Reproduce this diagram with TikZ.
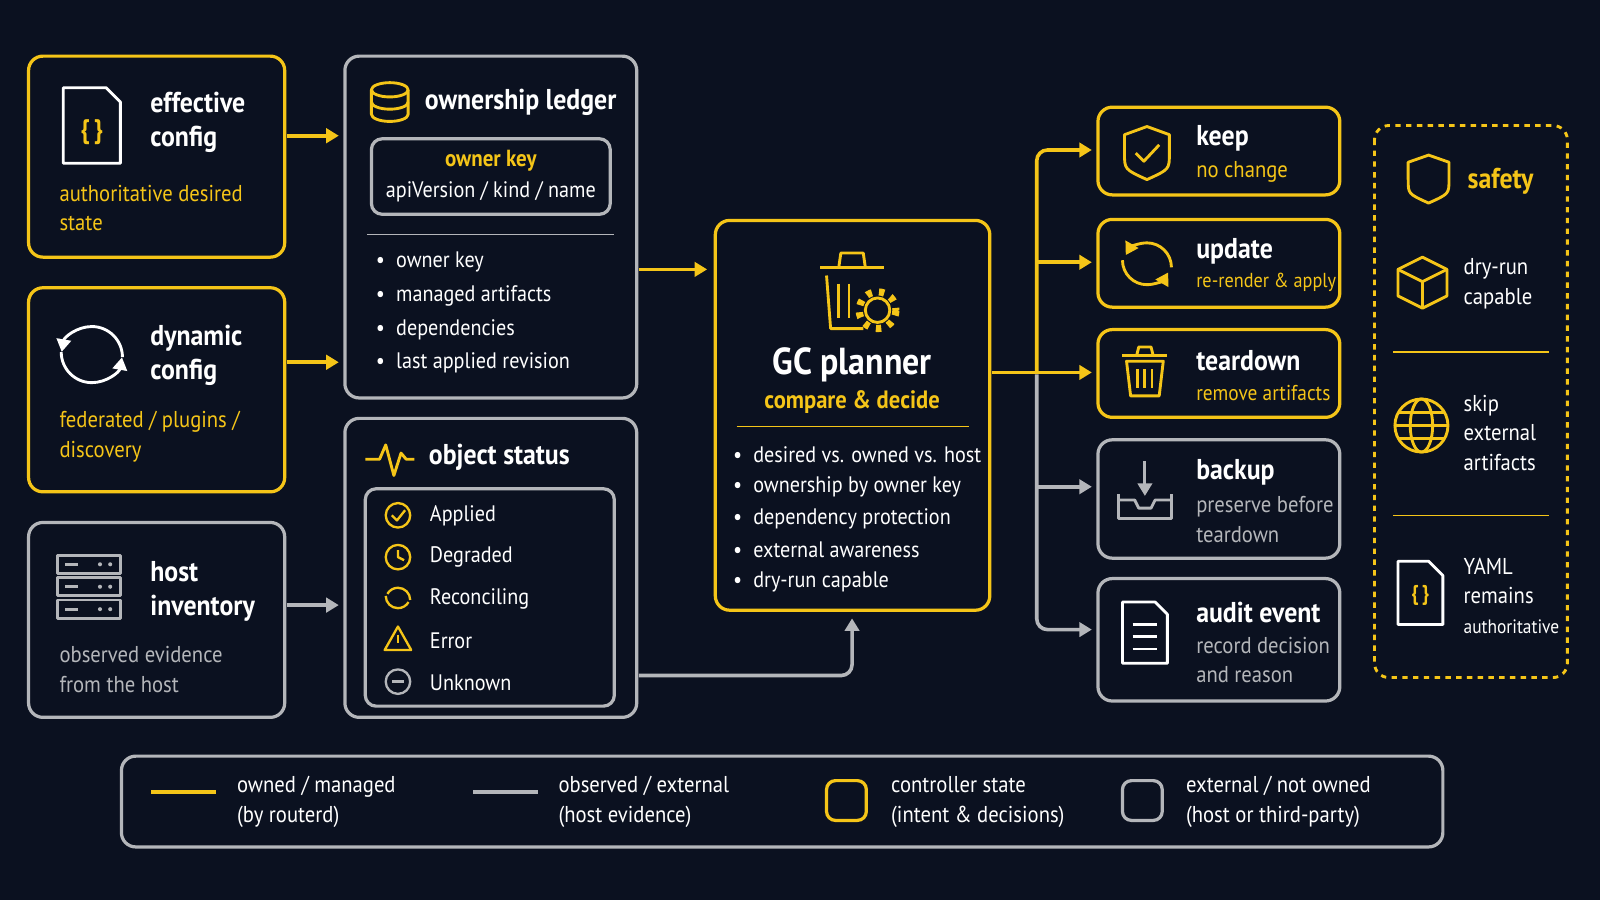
\documentclass[tikz,border=0pt]{standalone}
\usepackage{fontspec}
\setmainfont{PT Sans}[FakeStretch=0.9]
\usetikzlibrary{arrows.meta}
\definecolor{bgc}{HTML}{0B1120}
\definecolor{gold}{HTML}{F5C518}
\definecolor{ash}{HTML}{B4B6BA}
\tikzstyle{ctrl} = [draw=gold, line width=1.8pt, rounded corners=8]
\tikzstyle{extn} = [draw=ash, line width=1.8pt, rounded corners=8]
\tikzstyle{ttl}  = [anchor=west, text=white, font=\fontsize{16}{19}\selectfont\bfseries, align=left, inner sep=0]
\tikzstyle{sub}  = [anchor=west, font=\fontsize{12.8}{16.5}\selectfont, align=left, inner sep=0]
\tikzstyle{itm}  = [anchor=west, text=white, font=\fontsize{12.5}{14}\selectfont, inner sep=0]
\tikzstyle{ico}  = [line width=1.6pt, line join=round]
\begin{document}
\begin{tikzpicture}[x=0.02cm, y=-0.02cm, >={Triangle[length=7pt,width=8pt]}]
\fill[bgc] (0,0) rectangle (1568,882);
\useasboundingbox (0,0) rectangle (1568,882);
% left column
\draw[ctrl] (28,55) rectangle (279,252);
\draw[ico, white] (62,86) -- (104,86) -- (118,100) -- (118,160) -- (62,160) -- cycle;
\node[text=gold, font=\fontsize{15}{15}\selectfont\bfseries] (i1) at (90,130) {\{\,\}};
\node[ttl] (effc) at (147,120) {effective\\config};
\node[sub, text=gold] (effd) at (58,204) {authoritative desired\\state};
\draw[ctrl] (28,282) rectangle (279,482);
\draw[ico, white, ->] (60,345) arc (180:10:30);
\draw[ico, white, ->] (120,350) arc (0:-170:30);
\node[ttl] (dync) at (147,348) {dynamic\\config};
\node[sub, text=gold] (dynd) at (58,428) {federated / plugins /\\discovery};
\draw[extn] (28,512) rectangle (279,703);
\foreach \r in {0,1,2} {
  \draw[ico, ash] (56,544+\r*22) rectangle (118,562+\r*22);
  \draw[ico, ash] (64,553+\r*22) -- (76,553+\r*22);
  \fill[ash] (98,553+\r*22) circle (2) (108,553+\r*22) circle (2);
}
\node[ttl] (host) at (147,580) {host\\inventory};
\node[sub, text=ash] (hostd) at (58,656) {observed evidence\\from the host};
% ledger
\draw[extn] (338,55) rectangle (624,390);
\draw[ico, gold] (382,88) ellipse (18 and 7);
\draw[ico, gold] (364,88) -- (364,112) arc (180:0:18 and 7) -- (400,88);
\draw[ico, gold] (364,100) arc (180:0:18 and 7);
\node[ttl] (ledger) at (416,100) {ownership ledger};
\draw[extn, rounded corners=6] (364,136) rectangle (598,210);
\node[text=gold, font=\fontsize{13}{15}\selectfont\bfseries] (okey) at (481,158) {owner key};
\node[text=white, font=\fontsize{12.5}{14}\selectfont] (okeyd) at (481,188) {apiVersion / kind / name};
\draw[ash, line width=0.8pt] (360,230) -- (602,230);
\foreach \t [count=\i] in {owner key, managed artifacts, dependencies, last applied revision}
  \node[itm] (l\i) at (368,257+\i*33-33) {\textbullet\enspace\t};
% status
\draw[extn] (338,410) rectangle (624,703);
\draw[ico, gold] (358,450) -- (372,450) -- (378,436) -- (386,466) -- (393,444) -- (398,450) -- (406,450);
\node[ttl] (status) at (420,448) {object status};
\draw[extn, rounded corners=6] (358,479) rectangle (602,692);
\foreach \t [count=\i] in {Applied, Degraded, Reconciling, Error, Unknown}
  \node[itm] (s\i) at (421,505+\i*41-41) {\t};
\draw[ico, gold, line width=1.3pt] (390,505) circle (12);
\draw[ico, gold, line width=1.3pt] (384,505) -- (389,510) -- (397,500);
\draw[ico, gold, line width=1.3pt] (390,546) circle (12);
\draw[ico, gold, line width=1.3pt] (390,539) -- (390,546) -- (396,549);
\draw[ico, gold, line width=1.3pt] (378,584) arc (180:30:12);
\draw[ico, gold, line width=1.3pt] (402,588) arc (0:-150:12);
\draw[ico, gold, line width=1.3pt] (390,614) -- (403,637) -- (377,637) -- cycle;
\draw[ico, gold, line width=1.3pt] (390,622) -- (390,630);
\draw[ico, ash, line width=1.3pt] (390,668) circle (12);
\draw[ico, ash, line width=1.3pt] (384,668) -- (396,668);
% GC planner
\draw[ico, gold] (804,262) -- (866,262);
\draw[ico, gold] (822,262) -- (824,248) -- (846,248) -- (848,262);
\draw[ico, gold] (810,270) -- (814,322) -- (846,322);
\foreach \x in {822,832} \draw[ico, gold] (\x,278) -- (\x,312);
\draw[ico, gold] (860,304) circle (12);
\draw[gold, line width=4pt, dash pattern=on 3pt off 4pt] (860,304) circle (18);
\draw[ctrl] (701,216) rectangle (970,598);
\node[ttl, anchor=center] (gc) at (835,358) {\fontsize{21}{23}\selectfont GC planner};
\node[text=gold, font=\fontsize{14}{16}\selectfont\bfseries] (gcd) at (835,394) {compare \& decide};
\draw[gold, line width=0.8pt] (722,418) -- (950,418);
\foreach \t [count=\i] in {desired vs. owned vs. host, ownership by owner key, dependency protection, external awareness, dry-run capable}
  \node[itm] (g\i) at (718,446+\i*31-31) {\textbullet\enspace\t};
% outcomes
\draw[ctrl] (1076,105) rectangle (1313,191);
\draw[ico, gold] (1124,124) -- (1146,132) -- (1146,150) .. controls (1146,166) .. (1124,176) .. controls (1102,166) .. (1102,150) -- (1102,132) -- cycle;
\draw[ico, gold] (1113,150) -- (1121,158) -- (1136,142);
\node[ttl] (keep) at (1172,136) {keep};
\node[sub, text=gold] (keepd) at (1172,168) {no change};
\draw[ctrl] (1076,215) rectangle (1313,301);
\draw[ico, gold, ->] (1100,255) arc (180:30:24);
\draw[ico, gold, ->] (1148,262) arc (0:-150:24);
\node[ttl] (upd) at (1172,246) {update};
\node[sub, text=gold] (updd) at (1172,277) {\fontsize{11.3}{14}\selectfont re-render \& apply};
\draw[ctrl] (1076,323) rectangle (1313,409);
\draw[ico, gold] (1100,348) -- (1144,348);
\draw[ico, gold] (1114,348) -- (1116,340) -- (1128,340) -- (1130,348);
\draw[ico, gold] (1104,354) -- (1108,388) -- (1136,388) -- (1140,354) -- cycle;
\foreach \x in {1115,1122,1129} \draw[ico, gold] (\x,362) -- (\x,380);
\node[ttl] (tear) at (1172,353) {teardown};
\node[sub, text=gold] (teard) at (1172,385) {\fontsize{12}{14}\selectfont remove artifacts};
\draw[extn] (1076,431) rectangle (1313,547);
\draw[ico, ash] (1096,484) -- (1096,508) -- (1148,508) -- (1148,484);
\draw[ico, ash] (1096,490) -- (1112,490) -- (1116,498) -- (1128,498) -- (1132,490) -- (1148,490);
\draw[ico, ash, ->] (1122,452) -- (1122,486);
\node[ttl] (back) at (1172,463) {backup};
\node[sub, text=ash] (backd) at (1172,509) {preserve before\\teardown};
\draw[extn] (1076,567) rectangle (1313,687);
\draw[ico, white] (1100,590) -- (1132,590) -- (1144,602) -- (1144,650) -- (1100,650) -- cycle;
\foreach \y in {612,624,636} \draw[ico, white] (1110,\y) -- (1134,\y);
\node[ttl] (audit) at (1172,600) {audit event};
\node[sub, text=ash] (auditd) at (1172,647) {record decision\\and reason};
% safety
\draw[draw=gold, line width=1.6pt, dashed, rounded corners=8] (1347,123) rectangle (1536,664);
\draw[ico, gold] (1400,152) -- (1420,159) -- (1420,176) .. controls (1420,190) .. (1400,199) .. controls (1380,190) .. (1380,176) -- (1380,159) -- cycle;
\node[ttl, text=gold] (safe) at (1438,178) {safety};
\draw[ico, gold] (1394,252) -- (1418,264) -- (1418,290) -- (1394,302) -- (1370,290) -- (1370,264) -- cycle;
\draw[ico, gold] (1370,264) -- (1394,276) -- (1418,264) (1394,276) -- (1394,302);
\node[sub, text=white] (dry) at (1434,278) {dry-run\\capable};
\draw[gold, line width=0.8pt] (1365,345) -- (1518,345);
\draw[ico, gold] (1393,417) circle (26);
\draw[ico, gold] (1393,417) ellipse (11 and 26);
\draw[ico, gold] (1367,417) -- (1419,417) (1371,404) -- (1415,404) (1371,430) -- (1415,430);
\node[sub, text=white] (skip) at (1434,424) {skip\\external\\artifacts};
\draw[gold, line width=0.8pt] (1365,505) -- (1518,505);
\draw[ico, white] (1370,550) -- (1400,550) -- (1414,564) -- (1414,612) -- (1370,612) -- cycle;
\node[text=gold, font=\fontsize{12}{12}\selectfont\bfseries] (i2) at (1392,584) {\{\,\}};
\node[sub, text=white] (yaml) at (1434,584) {YAML\\remains\\\fontsize{10.8}{14}\selectfont authoritative};
% connectors
\coordinate (ea) at (281,133); \coordinate (eb) at (332,133);
\draw[->, gold, line width=2pt] (ea) -- (eb);
\coordinate (da) at (281,355); \coordinate (db) at (332,355);
\draw[->, gold, line width=2pt] (da) -- (db);
\coordinate (ha) at (281,593); \coordinate (hb) at (332,593);
\draw[->, ash, line width=2pt] (ha) -- (hb);
\coordinate (la) at (626,264); \coordinate (lb) at (693,264);
\draw[->, gold, line width=2pt] (la) -- (lb);
\coordinate (sa) at (626,662); \coordinate (sb) at (835,606);
\draw[->, ash, line width=2pt, rounded corners=6] (sa) -- (835,662) -- (sb);
\coordinate (ga) at (972,365); \coordinate (tr) at (1016,365);
\draw[gold, line width=2pt] (ga) -- (tr);
\draw[gold, line width=2pt, rounded corners=6] (1016,365) -- (1016,147) -- (1066,147);
\draw[->, gold, line width=2pt] (1064,147) -- (1070,147);
\foreach \y in {257,365}
  \draw[->, gold, line width=2pt] (1016,\y) -- (1070,\y);
\draw[ash, line width=2pt, rounded corners=6] (1016,367) -- (1016,617) -- (1066,617);
\draw[->, ash, line width=2pt] (1064,617) -- (1070,617);
\draw[->, ash, line width=2pt] (1016,477) -- (1070,477);
% legend
\draw[extn] (119,741) rectangle (1414,830);
\draw[gold, line width=2.5pt] (148,776) -- (212,776);
\node[sub, text=white] (lg1) at (232,786) {owned / managed\\(by routerd)};
\draw[ash, line width=2.5pt] (464,776) -- (527,776);
\node[sub, text=white] (lg2) at (547,786) {observed / external\\(host evidence)};
\draw[ctrl, rounded corners=5] (810,765) rectangle (849,804);
\node[sub, text=white] (lg3) at (873,786) {controller state\\(intent \& decisions)};
\draw[extn, rounded corners=5] (1100,765) rectangle (1139,804);
\node[sub, text=white] (lg4) at (1162,786) {external / not owned\\(host or third-party)};
\end{tikzpicture}
\end{document}
